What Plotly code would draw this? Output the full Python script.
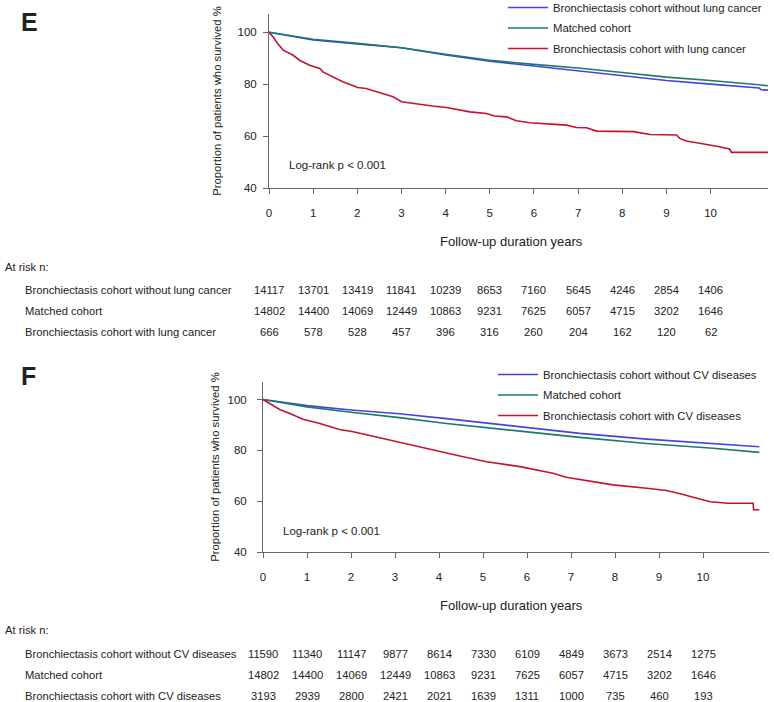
import plotly.graph_objects as go

FONT = "Liberation Sans, Arial, sans-serif"
BLUE = "#4343e0"
GREEN = "#1a7a6c"
RED = "#c41230"
AXIS = "#666666"
TXT = "#222222"

years = list(range(11))

# ---- panel E: lung cancer ----
e_names = ["Bronchiectasis cohort without lung cancer", "Matched cohort",
           "Bronchiectasis cohort with lung cancer"]
e_t_without = [0, 1, 2, 3, 4, 5, 6, 7, 8, 9, 10, 11.1, 11.15, 11.3]
e_s_without = [100, 97.0, 95.5, 94.0, 91.2, 88.8, 87.0, 85.1, 83.2, 81.4, 80.0, 78.5, 77.8, 77.7]
e_t_matched = [0, 1, 2, 3, 4, 5, 6, 7, 8, 9, 10, 11.3]
e_s_matched = [100, 97.3, 95.7, 94.0, 91.5, 89.2, 87.6, 86.2, 84.5, 82.7, 81.4, 79.4]
e_t_with = [0, 0.09, 0.2, 0.32, 0.54, 0.69, 0.92, 1.15, 1.22, 1.45, 1.67, 1.85, 2.01, 2.2,
            2.5, 2.81, 3.0, 3.34, 3.7, 4.02, 4.32, 4.55, 4.92, 5.11, 5.38, 5.6, 5.91, 6.28,
            6.74, 6.96, 7.19, 7.42, 8.25, 8.63, 9.23, 9.3, 9.45, 9.75, 10.09, 10.2, 10.43,
            10.47, 11.3]
e_s_with = [100, 98.2, 95.5, 93.1, 91.2, 89.2, 87.3, 86.0, 84.7, 82.8, 80.9, 79.8, 78.7, 78.3,
            76.6, 75.1, 73.2, 72.3, 71.6, 71.0, 70.0, 69.3, 68.7, 67.7, 67.4, 65.9, 65.1, 64.6,
            64.2, 63.3, 63.2, 61.9, 61.7, 60.6, 60.4, 59.1, 58.1, 57.2, 56.3, 55.9, 55.0,
            53.7, 53.7]
e_risk_without = [14117, 13701, 13419, 11841, 10239, 8653, 7160, 5645, 4246, 2854, 1406]
e_risk_matched = [14802, 14400, 14069, 12449, 10863, 9231, 7625, 6057, 4715, 3202, 1646]
e_risk_with = [666, 578, 528, 457, 396, 316, 260, 204, 162, 120, 62]

# ---- panel F: CV diseases ----
f_names = ["Bronchiectasis cohort without CV diseases", "Matched cohort",
           "Bronchiectasis cohort with CV diseases"]
f_t_without = [0, 1, 2, 2.66, 3.1, 4.17, 5.69, 7.2, 8.72, 10.23, 11.28]
f_s_without = [100, 97.6, 95.9, 95.1, 94.4, 92.5, 89.5, 86.7, 84.4, 82.7, 81.4]
f_t_matched = [0, 1, 2, 2.66, 3.1, 4.17, 5.69, 7.2, 8.72, 9.93, 10.23, 11.28]
f_s_matched = [100, 97.1, 95.0, 93.9, 92.9, 90.6, 87.7, 85.1, 82.7, 81.4, 80.8, 79.2]
f_t_with = [0, 0.38, 0.61, 0.91, 1.29, 1.74, 2.05, 2.58, 3.04, 3.8, 4.55, 5.08, 5.84, 6.59,
            6.89, 7.35, 7.95, 8.72, 9.17, 9.48, 9.78, 10.16, 10.57, 11.14, 11.15, 11.28]
f_s_with = [100, 96.1, 94.5, 92.2, 90.6, 88.2, 87.3, 85.3, 83.4, 80.4, 77.5, 75.5, 73.6, 71.0,
            69.4, 68.1, 66.4, 65.1, 64.2, 62.9, 61.6, 59.8, 59.2, 59.2, 56.6, 56.6]
f_risk_without = [11590, 11340, 11147, 9877, 8614, 7330, 6109, 4849, 3673, 2514, 1275]
f_risk_matched = [14802, 14400, 14069, 12449, 10863, 9231, 7625, 6057, 4715, 3202, 1646]
f_risk_with = [3193, 2939, 2800, 2421, 2021, 1639, 1311, 1000, 735, 460, 193]

fig = go.Figure()

panels = [
    ("x", "y", "legend", e_names,
     [(e_t_without, e_s_without, BLUE), (e_t_matched, e_s_matched, GREEN), (e_t_with, e_s_with, RED)]),
    ("x2", "y2", "legend2", f_names,
     [(f_t_without, f_s_without, BLUE), (f_t_matched, f_s_matched, GREEN), (f_t_with, f_s_with, RED)]),
]
for xa, ya, leg, names, series in panels:
    for i, (t, s, col) in enumerate(series):
        fig.add_trace(go.Scatter(
            x=t, y=s, mode="lines", name=names[i], xaxis=xa, yaxis=ya,
            line=dict(color=col, width=1.6), legend=leg, legendgroup=leg + str(i),
        ))

axis_common = dict(showline=True, linecolor=AXIS, linewidth=1, ticks="outside", ticklen=5,
                   tickcolor=AXIS, showgrid=False, zeroline=False, automargin=False,
                   tickfont=dict(family=FONT, size=11.5, color=TXT))
ytitle_font = dict(family=FONT, size=11.3, color=TXT)
ytitle_text = "Proportion of patients who survived %"

fig.update_layout(
    width=774, height=702, margin=dict(l=0, r=0, t=0, b=0, autoexpand=False),
    paper_bgcolor="white", plot_bgcolor="white",
    font=dict(family=FONT, color=TXT),
    xaxis=dict(domain=[269 / 774, 768 / 774], range=[0, 11.3], tickvals=years,
               anchor="y", ticklabelstandoff=9, **axis_common),
    yaxis=dict(domain=[1 - 188 / 702, 1 - 14 / 702], range=[40, 107], tickvals=[40, 60, 80, 100],
               anchor="x", ticklabelstandoff=4,
               title=dict(text=ytitle_text, standoff=13, font=ytitle_font), **axis_common),
    xaxis2=dict(domain=[263 / 774, 769 / 774], range=[0, 11.5], tickvals=years,
                anchor="y2", ticklabelstandoff=9, **axis_common),
    yaxis2=dict(domain=[1 - 552 / 702, 1 - 382 / 702], range=[40, 106.9], tickvals=[40, 60, 80, 100],
                anchor="x2", ticklabelstandoff=8,
                title=dict(text=ytitle_text, standoff=5, font=ytitle_font), **axis_common),
    legend=dict(x=503 / 774, y=1 + 7 / 702, xanchor="left", yanchor="top", bgcolor="rgba(0,0,0,0)",
                font=dict(family=FONT, size=11.3, color=TXT), tracegroupgap=1.5,
                traceorder="grouped", itemwidth=40),
    legend2=dict(x=493 / 774, y=1 - 360 / 702, xanchor="left", yanchor="top",
                 bgcolor="rgba(0,0,0,0)", font=dict(family=FONT, size=11.3, color=TXT),
                 tracegroupgap=1.5, traceorder="grouped", itemwidth=40),
    showlegend=True,
)

ann = []


def txt(x, y, s, xref="paper", size=11.2, anchor="left", **kw):
    ann.append(dict(x=x, y=y, xref=xref, yref="paper", text=s, showarrow=False,
                    xanchor=anchor, yanchor="middle",
                    font=dict(family=FONT, size=size, color=TXT), **kw))


# panel letters
txt(19 / 774, 1 - 22 / 702, "<b>E</b>", size=25)
txt(19 / 774, 1 - 376 / 702, "<b>F</b>", size=25)

# log-rank notes
txt(287 / 774, 1 - 165 / 702, "Log-rank p < 0.001", size=11.5)
txt(281 / 774, 1 - 531 / 702, "Log-rank p < 0.001", size=11.5)

# risk tables
tables = [
    ("x", 242, 267, [290, 311, 332], e_names, [e_risk_without, e_risk_matched, e_risk_with]),
    ("x2", 605, 630, [654, 675, 696], f_names, [f_risk_without, f_risk_matched, f_risk_with]),
]
for xref, title_y, head_y, rows_y, names, risks in tables:
    txt(511 / 774, 1 - title_y / 702, "Follow-up duration years", size=13, anchor="center")
    txt(3 / 774, 1 - head_y / 702, "At risk n:")
    for ry, name, vals in zip(rows_y, names, risks):
        txt(23 / 774, 1 - ry / 702, name)
        for yr, v in zip(years, vals):
            txt(yr, 1 - ry / 702, str(v), xref=xref, anchor="center")

fig.update_layout(annotations=ann)

# the page body has a default 8px margin; drop it so the figure fills the window
fig.write_html("out.html", config={"displayModeBar": False},
               post_script="document.body.style.margin='0';")
